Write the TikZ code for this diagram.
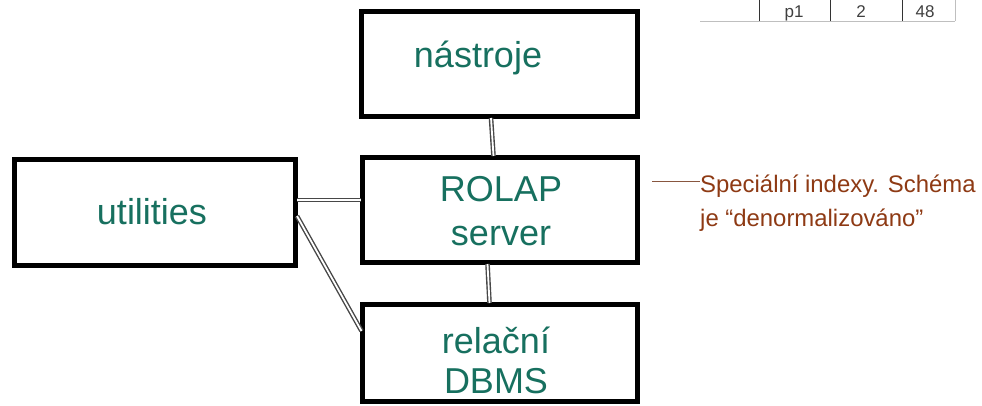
\documentclass[tikz,border=0pt]{standalone}
\usepackage{fontspec}
\setmainfont{Liberation Sans}
\usetikzlibrary{calc}
\definecolor{teal1}{HTML}{17705F}
\definecolor{brown1}{HTML}{8E3A14}
\tikzset{
  box/.style={draw=black, line width=5pt, fill=white, inner sep=0pt},
  lbl/.style={text=teal1, font=\fontsize{36}{40}\selectfont, inner sep=0pt},
  conn/.style={draw=black!72, line width=1.4pt, double=white, double distance=1.8pt},
  note/.style={text=brown1, font=\fontsize{23.9}{30}\selectfont, inner sep=0pt, anchor=base west},
  tline/.style={draw=black!80, line width=0.8pt},
  tlight/.style={draw=black!25, line width=0.8pt},
  tnum/.style={text=black!75, font=\fontsize{17}{18}\selectfont, inner sep=0pt, anchor=base}
}
\begin{document}
\begin{tikzpicture}[x=1pt,y=-1pt]
\useasboundingbox[fill=white] (0,0) rectangle (982,406);
% table fragment
\coordinate (t0) at (700,21.5);
\coordinate (t1) at (955,21.5);
\draw[tlight] (t0) -- (t1);
\coordinate (v1a) at (759,0); \coordinate (v1b) at (759,21.5);
\coordinate (v2a) at (830,0); \coordinate (v2b) at (830,21.5);
\coordinate (v3a) at (902,0); \coordinate (v3b) at (902,21.5);
\coordinate (v4a) at (955,0); \coordinate (v4b) at (955,21.5);
\draw[tline] (v1a) -- (v1b);
\draw[tline] (v2a) -- (v2b);
\draw[tline] (v3a) -- (v3b);
\draw[tlight] (v4a) -- (v4b);
\node[tnum] (p1) at (794,18) {p1};
\node[tnum] (n2) at (861,18) {2};
\node[tnum] (n48) at (925,18) {48};
% boxes
\node[box, minimum width=276pt, minimum height=105pt] (nas) at (499.5,64) {};
\node[box, minimum width=275pt, minimum height=105pt] (rol) at (500,210) {};
\node[box, minimum width=281pt, minimum height=106pt] (uti) at (155,212.5) {};
\node[box, minimum width=275pt, minimum height=97pt] (dbm) at (500,353) {};
% connectors
\draw[conn] ($(nas.south)+(-8.5,-1)$) -- ($(rol.north)+(-6.5,1)$);
\draw[conn] ($(rol.south)+(-12.5,-1)$) -- ($(dbm.north)+(-10.5,1)$);
\draw[conn] ($(uti.east)+(-1,-12.5)$) -- ($(rol.west)+(1,-10)$);
\draw[conn] ($(uti.east)+(-1,3.5)$) -- ($(dbm.west)+(1.5,-22)$);
% labels
\node[lbl] (nasT) at (478,58) {nástroje};
\node[lbl, align=center, font=\fontsize{36}{44}\selectfont] (rolT) at (501,211) {ROLAP\\server};
\node[lbl] (utiT) at (152,212) {utilities};
\node[lbl, align=center, font=\fontsize{36}{40}\selectfont] (dbmT) at (496,360) {relační\\DBMS};
% annotation
\node[note] (n1) at (700,193) {Speciální indexy. Schéma};
\node[note] (n2b) at (700,226) {je “denormalizováno”};
\coordinate (a0) at (652,181);
\draw[draw=brown1!60!gray, line width=0.6pt] (a0) -- (n1.base west |- a0);
\end{tikzpicture}
\end{document}
